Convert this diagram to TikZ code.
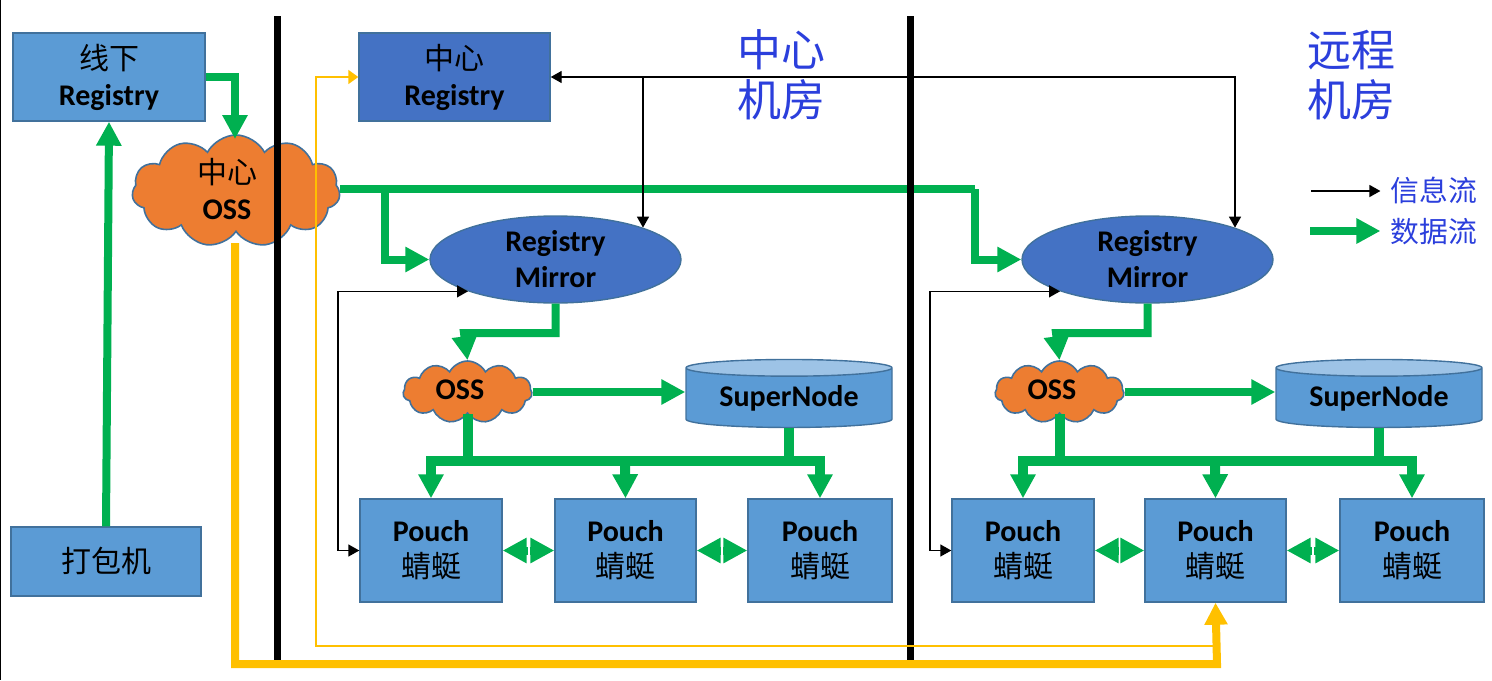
\documentclass[tikz,border=0pt]{standalone}
\usepackage{fontspec}
\setmainfont{Carlito}
\newfontfamily\cjk{Noto Sans CJK SC}
\usepackage{tikz}
\usetikzlibrary{arrows.meta,calc,shapes.geometric,shapes.symbols}

\begin{document}
\begin{tikzpicture}[x=0.5pt,y=-0.5pt,
    box/.style={rectangle,draw=boxedge,line width=0.7pt,fill=boxblue,inner sep=0pt,align=center,font=\fontsize{15}{18}\selectfont},
    darkbox/.style={box,fill=darkblue},
    mirror/.style={ellipse,draw=boxedge,line width=0.7pt,fill=darkblue,inner sep=0pt,minimum width=125.5pt,minimum height=43.5pt,align=center,font=\fontsize{15}{18}\selectfont},
    oss/.style={cloud,cloud puffs=11,cloud puff arc=125,draw=boxedge,line width=0.8pt,fill=cloudorange,inner sep=0pt},
    supernode/.style={cylinder,shape border rotate=90,aspect=0.12,cylinder uses custom fill,cylinder body fill=boxblue,cylinder end fill=lightblue,draw=boxedge,line width=0.7pt,inner sep=0pt,minimum width=103pt,minimum height=34pt,font=\fontsize{15}{18}\selectfont},
    plain/.style={inner sep=0pt,align=center,font=\fontsize{15}{18}\selectfont},
    title/.style={inner sep=0pt,align=center,text=titleblue,font=\fontsize{22}{25}\selectfont\cjk},
    legend/.style={inner sep=0pt,text=titleblue,font=\fontsize{14.4}{18}\selectfont\cjk},
    dataflow/.style={draw=flowgreen,line width=4pt,-{Triangle[length=12pt,width=12pt]}},
    busflow/.style={draw=flowgreen,line width=5pt,-{Triangle[length=12pt,width=12pt]}},
    infoflow/.style={draw=black,line width=0.7pt,-{Triangle[length=5.5pt,width=6pt]}},
    bothflow/.style={draw=black,line width=0.7pt,{Triangle[length=5.5pt,width=6pt]}-{Triangle[length=5.5pt,width=6pt]}},
    copyflow/.style={draw=flowyellow,line width=4pt,-{Triangle[length=11pt,width=11pt]}},
    thinflow/.style={draw=flowyellow,line width=0.8pt,-{Triangle[length=5pt,width=7pt]}}
    ]
    \definecolor{boxblue}{HTML}{5B9BD5}
    \definecolor{darkblue}{HTML}{4472C4}
    \definecolor{lightblue}{HTML}{9DC3E6}
    \definecolor{boxedge}{HTML}{41719C}
    \definecolor{cloudorange}{HTML}{ED7D31}
    \definecolor{flowgreen}{HTML}{00B050}
    \definecolor{flowyellow}{HTML}{FFC000}
    \definecolor{titleblue}{HTML}{2B3FDC}
    \def\cn#1{{\cjk #1}}

    \useasboundingbox (0,0) rectangle (1492,680);
    \draw[line width=0.6pt] (0,0) -- (0,680);

    % left column
    \node[box,minimum width=96pt,minimum height=44pt] (offline) at (109,77) {\cn{线下}\\\textbf{Registry}};
    \node[box,minimum width=95pt,minimum height=34.5pt] (packer) at (106,561.5) {\cn{打包机}};
    \node[darkbox,minimum width=95.5pt,minimum height=44pt] (central) at (454.5,77) {\cn{中心}\\\textbf{Registry}};
    \node[oss,minimum width=104pt,minimum height=56pt] (hub) at (236,191) {};
    \node[plain] (hubtext) at (227,189) {\cn{中心}\\\textbf{OSS}};

    % the two rooms
    \foreach \r/\dx/\ds in {a/0/0,b/592/-2} {
        \node[mirror] (\r mirror) at (\dx+555.5,259.5) {\textbf{Registry}\\\textbf{Mirror}};
        \node[oss,minimum width=64.5pt,minimum height=31pt] (\r oss) at (\dx+467.5,392) {};
        \node[plain] (\r osstext) at (\dx+460,390) {\textbf{OSS}};
        \node[supernode] (\r super) at (\dx+\ds+789,398) {\textbf{SuperNode}};
        \node[box,minimum width=71pt,minimum height=51.5pt] (\r p1) at (\dx+431,550.5) {\textbf{Pouch}\\\cn{蜻蜓}};
        \node[box,minimum width=70.5pt,minimum height=51.5pt] (\r p2) at (\dx+\ds+625.5,550.5) {\textbf{Pouch}\\\cn{蜻蜓}};
        \node[box,minimum width=72pt,minimum height=51.5pt] (\r p3) at (\dx+820,550.5) {\textbf{Pouch}\\\cn{蜻蜓}};

        \coordinate (\r bus) at (\dx+\ds+625,461);
        \coordinate (\r drop) at (\dx+464,333);
        % data
        \draw[dataflow] (\r mirror.south) |- (\r drop) -- (\r oss.north);
        \draw[dataflow] (\r oss.east) -- (\r oss.east -| \r super.west);
        \draw[busflow] (\r oss.south) |- (\r bus) -| (\r p1.north);
        \draw[busflow] (\r bus) -- (\r p2.north);
        \draw[busflow] (\r super.south) |- (\r bus) -| (\r p3.north);
        % between the pouches
        \coordinate (\r gapa) at ($(\r p1.east)!0.5!(\r p2.west)$);
        \coordinate (\r gapb) at ($(\r p2.east)!0.5!(\r p3.west)$);
        \draw[dataflow,shorten <=0.5pt] (\r gapa) -- (\r p1.east);
        \draw[dataflow,shorten <=0.5pt] (\r gapa) -- (\r p2.west);
        \draw[dataflow,shorten <=0.5pt] (\r gapb) -- (\r p2.east);
        \draw[dataflow,shorten <=0.5pt] (\r gapb) -- (\r p3.west);
        % loop back to the mirror
        \coordinate (\r loop) at (\dx+338,420);
        \draw[bothflow] (\r p1.west) -| (\r loop) |- (\r mirror.200);
    }

    % green from the central OSS
    \coordinate (turna) at (385,189);
    \coordinate (turnb) at (975,189);
    \coordinate (hubin) at (235,139);
    \coordinate (hubout) at (235,243);
    \draw[dataflow,-] (hub.east |- turna) -- (turnb);
    \draw[dataflow] (turna) |- (amirror.west);
    \draw[dataflow] (turnb) |- (bmirror.west);
    \draw[dataflow] (offline.east) -| (hubin);
    \draw[dataflow] (packer.north) -- (offline.south);

    % black from the central registry
    \draw[bothflow] (central.east) -| (bmirror.20);
    \draw[infoflow] (amirror.20 |- central.east) -- (amirror.20);

    % the room walls
    \foreach \bx in {277,910} {
        \draw[line width=3.5pt] (\bx,16) -- (\bx,660);
    }

    % yellow
    \coordinate (lowa) at (1217,664);
    \coordinate (lowb) at (1217,646);
    \coordinate (lowc) at (316,400);
    \draw[copyflow] (hubout) |- (lowa) -- (bp2.south);
    \draw[thinflow] (lowb) -| (lowc) |- (central.west);

    % room titles
    \node[title] (titlea) at (781,75) {中心\\机房};
    \node[title] (titleb) at (1351,75) {远程\\机房};

    % legend
    \coordinate (infostart) at (1311,191);
    \coordinate (datastart) at (1310,231);
    \node[legend] (infolabel) at (1434,190) {信息流};
    \node[legend] (datalabel) at (1434,232) {数据流};
    \draw[infoflow,shorten >=5pt] (infostart) -- (infostart -| infolabel.west);
    \draw[dataflow,shorten >=5pt] (datastart) -- (datastart -| datalabel.west);
\end{tikzpicture}
\end{document}
